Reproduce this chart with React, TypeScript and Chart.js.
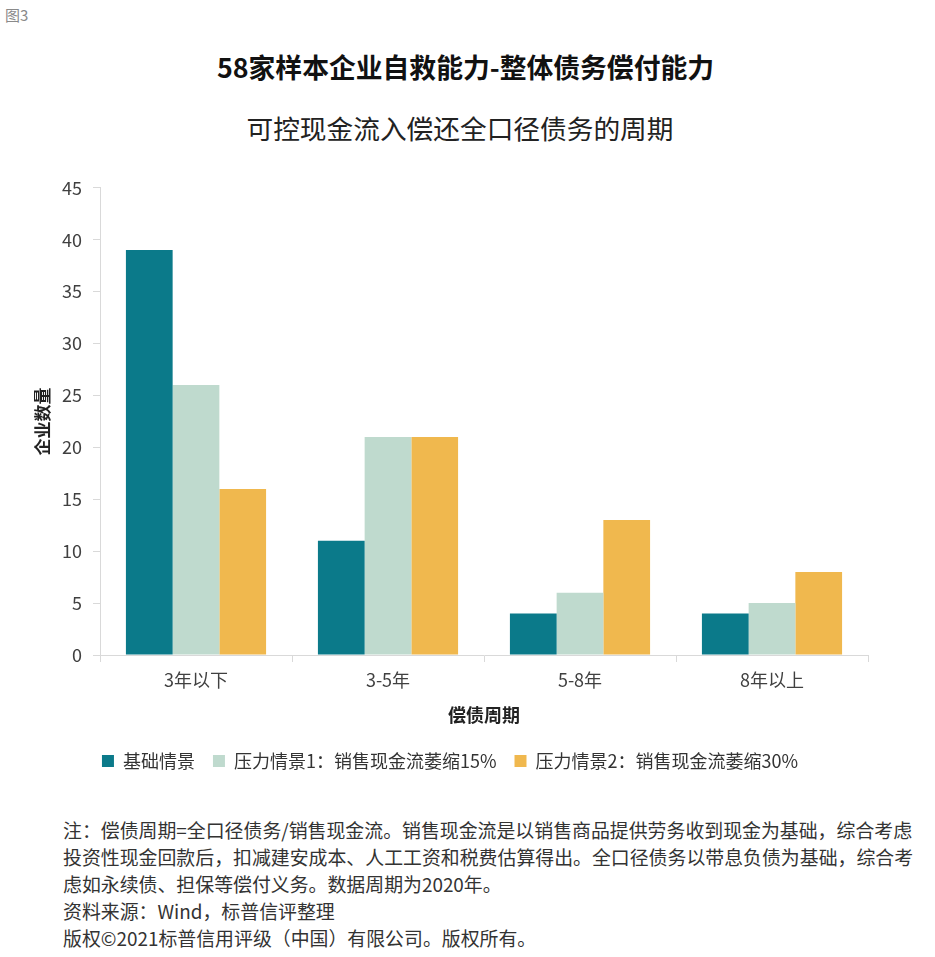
import React, { useEffect, useRef } from "react";
import { Chart, registerables } from "chart.js";

Chart.register(...registerables);

const categories = ["3年以下", "3-5年", "5-8年", "8年以上"];
const seriesNames = ["基础情景", "压力情景1：销售现金流萎缩15%", "压力情景2：销售现金流萎缩30%"];
const baseCase = [39, 11, 4, 4];
const stress15 = [26, 21, 6, 5];
const stress30 = [16, 21, 13, 8];
const colors = ["#0B7A8A", "#BFDACE", "#F0B84E"];

const noteLines = [
  "注：偿债周期=全口径债务/销售现金流。销售现金流是以销售商品提供劳务收到现金为基础，综合考虑",
  "投资性现金回款后，扣减建安成本、人工工资和税费估算得出。全口径债务以带息负债为基础，综合考",
  "虑如永续债、担保等偿付义务。数据周期为2020年。",
  "资料来源：Wind，标普信评整理",
  "版权©2021标普信用评级（中国）有限公司。版权所有。",
];

const FONT = "'Noto Sans CJK SC', 'Noto Sans', sans-serif";

// nudge the legend to the right, the source centres it under the whole picture
const legendShift = {
  id: "legendShift",
  afterLayout(chart: any) {
    const lg = chart.legend;
    if (!lg) return;
    lg.left += 16;
    lg.right += 16;
  },
};

export default function App() {
  const canvasRef = useRef<HTMLCanvasElement>(null);
  const chartRef = useRef<Chart | null>(null);

  useEffect(() => {
    document.body.style.margin = "0";
    if (!canvasRef.current) return;
    const ctx = canvasRef.current.getContext("2d");
    if (!ctx) return;

    if (chartRef.current) chartRef.current.destroy();

    chartRef.current = new Chart(ctx, {
      type: "bar",
      data: {
        labels: categories,
        datasets: [baseCase, stress15, stress30].map((d, i) => ({
          label: seriesNames[i],
          data: d,
          backgroundColor: colors[i],
          borderWidth: 0,
          categoryPercentage: 0.73,
          barPercentage: 1.0,
        })),
      },
      plugins: [legendShift],
      options: {
        animation: false,
        responsive: true,
        maintainAspectRatio: false,
        font: { family: FONT },
        layout: { padding: { top: 14, left: 0, right: 67, bottom: 0 } },
        plugins: {
          legend: {
            position: "bottom",
            labels: {
              boxWidth: 12,
              boxHeight: 12,
              padding: 18,
              color: "#333333",
              font: { family: FONT, size: 18 },
            },
          },
          tooltip: { enabled: false },
        },
        scales: {
          x: {
            afterFit: (scale: any) => {
              scale.height = 79;
            },
            grid: {
              drawOnChartArea: false,
              drawTicks: true,
              tickLength: 7,
              color: "#D9D9D9",
            },
            border: { color: "#D9D9D9" },
            ticks: {
              padding: 7,
              color: "#404040",
              font: { family: FONT, size: 18 },
            },
            title: {
              display: true,
              text: "偿债周期",
              color: "#222222",
              font: { family: FONT, size: 18, weight: "bold" },
              padding: { top: 0, bottom: 8 },
            },
          },
          y: {
            min: 0,
            max: 45,
            afterFit: (scale: any) => {
              scale.width = 100;
            },
            grid: {
              drawOnChartArea: false,
              drawTicks: true,
              tickLength: 7,
              color: "#D9D9D9",
            },
            border: { color: "#D9D9D9" },
            ticks: {
              stepSize: 5,
              padding: 11,
              color: "#404040",
              font: { family: FONT, size: 18 },
            },
            title: {
              display: true,
              text: "企业数量",
              color: "#222222",
              font: { family: FONT, size: 17, weight: "bold" },
              padding: { top: 32, bottom: 0 },
            },
          },
        },
      },
    });

    return () => {
      if (chartRef.current) {
        chartRef.current.destroy();
        chartRef.current = null;
      }
    };
  }, []);

  return (
    <div
      style={{
        position: "relative",
        width: 935,
        height: 957,
        background: "#ffffff",
        fontFamily: FONT,
        overflow: "hidden",
      }}
    >
      <div style={{ position: "absolute", left: 5, top: 4, fontSize: 15, lineHeight: "22px", color: "#8A8A8A" }}>
        图3
      </div>
      <div
        style={{
          position: "absolute",
          left: 0,
          width: 931,
          top: 50,
          textAlign: "center",
          fontSize: 26.8,
          lineHeight: "34px",
          fontWeight: "bold",
          color: "#111111",
        }}
      >
        58家样本企业自救能力-整体债务偿付能力
      </div>
      <div
        style={{
          position: "absolute",
          left: 0,
          width: 920,
          top: 111,
          textAlign: "center",
          fontSize: 26.7,
          lineHeight: "34px",
          color: "#222222",
        }}
      >
        可控现金流入偿还全口径债务的周期
      </div>
      <div style={{ position: "absolute", left: 0, top: 166, width: 935, height: 614 }}>
        <canvas ref={canvasRef} />
      </div>
      <div
        style={{
          position: "absolute",
          left: 63,
          top: 816,
          fontSize: 18.9,
          lineHeight: "27px",
          color: "#333333",
          whiteSpace: "nowrap",
        }}
      >
        {noteLines.map((line, i) => (
          <div key={i}>{line}</div>
        ))}
      </div>
    </div>
  );
}
